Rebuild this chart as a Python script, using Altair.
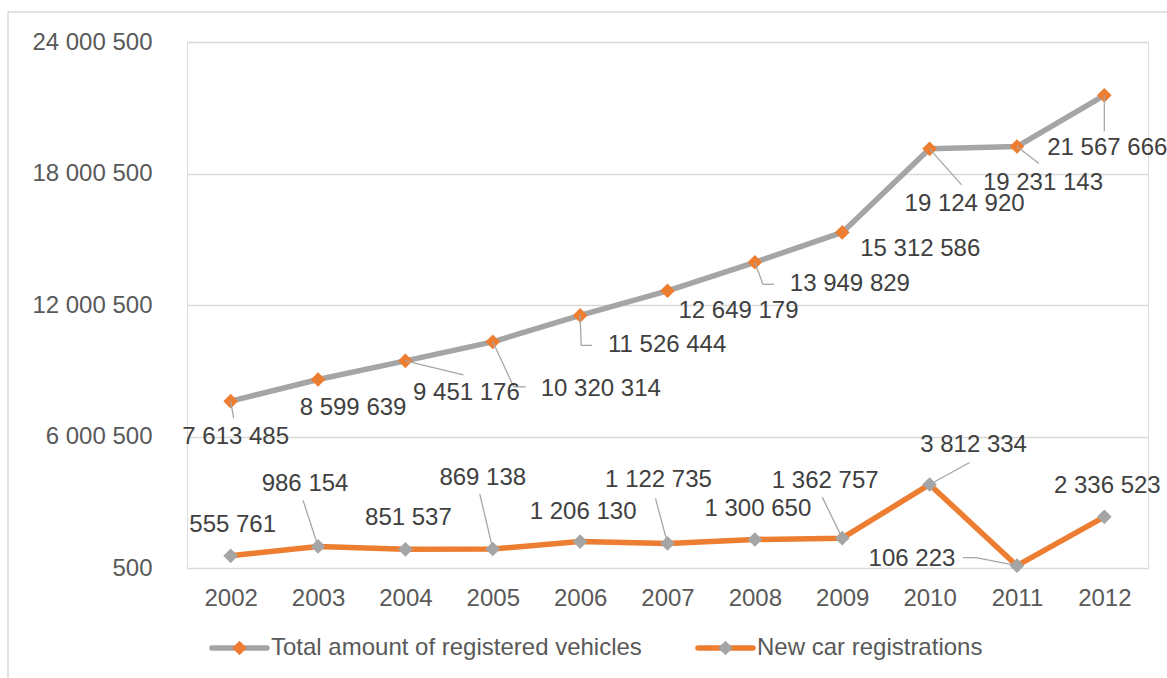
import altair as alt
import pandas as pd

# ---- data -------------------------------------------------------------
YEARS = [2002, 2003, 2004, 2005, 2006, 2007, 2008, 2009, 2010, 2011, 2012]
TOTAL = [7613485, 8599639, 9451176, 10320314, 11526444, 12649179,
         13949829, 15312586, 19124920, 19231143, 21567666]
NEW = [555761, 986154, 851537, 869138, 1206130, 1122735,
       1300650, 1362757, 3812334, 106223, 2336523]
SERIES = ["Total amount of registered vehicles", "New car registrations"]
Y_TICKS = [500, 6000500, 12000500, 18000500, 24000500]

# ---- label layout (pixel offsets from each marker) ---------------------
TOTAL_LABEL_DX = [5, 35, 61, 108, 87, 71, 95, 78, 35, 26, 3]
TOTAL_LABEL_DY = [36, 28, 32, 47, 30, 20, 22, 17, 55, 36, 53]
NEW_LABEL_DX = [2, -13, 3, -10, 3, -9, 3, -17, 44, -105, 3]
NEW_LABEL_DY = [-31, -62, -31, -71, -30, -63, -31, -57, -39, -7, -31]

# leader-line paths, as pixel offsets from the marker
TOTAL_LEADERS = {
    2002: [(0, 0), (3, 17)],
    2004: [(0, 0), (58, 14)],
    2005: [(0, 0), (21, 45), (33, 45)],
    2006: [(0, 0), (1, 30), (12, 30)],
    2008: [(0, 0), (8, 22), (19, 22)],
    2010: [(0, 0), (32, 36)],
    2011: [(0, 0), (22, 17)],
    2012: [(0, 0), (0, 36)],
}
NEW_LEADERS = {
    2003: [(0, 0), (-15, -46)],
    2005: [(0, 0), (-13, -55)],
    2007: [(0, 0), (-12, -45)],
    2009: [(0, 0), (-20, -41)],
    2010: [(0, 0), (40, -22)],
    2011: [(0, 0), (-41, -8), (-54, -8)],
}

ORANGE = "#ED7D31"
GREY = "#A5A5A5"
FONT = "Liberation Sans"
MARKER_SIZE = 215


def spaced(v):
    return f"{v:,}".replace(",", " ")


series_df = pd.DataFrame({
    "year": YEARS * 2,
    "value": TOTAL + NEW,
    "series": [SERIES[0]] * len(YEARS) + [SERIES[1]] * len(YEARS),
})
total_df = series_df[series_df.series == SERIES[0]]
new_df = series_df[series_df.series == SERIES[1]]

labels_df = pd.DataFrame({
    "year": YEARS * 2,
    "value": TOTAL + NEW,
    "text": [spaced(v) for v in TOTAL + NEW],
    "ox": TOTAL_LABEL_DX + NEW_LABEL_DX,
    "oy": TOTAL_LABEL_DY + NEW_LABEL_DY,
})

leader_rows = []
for values, paths in ((TOTAL, TOTAL_LEADERS), (NEW, NEW_LEADERS)):
    for yr, path in paths.items():
        v = values[YEARS.index(yr)]
        for (a, b), (c, d) in zip(path[:-1], path[1:]):
            leader_rows.append({"year": yr, "value": v,
                                "x1o": a, "y1o": b, "x2o": c, "y2o": d})
leaders_df = pd.DataFrame(leader_rows)

# ---- encodings -----------------------------------------------------------
x_enc = alt.X(
    "year:O",
    scale=alt.Scale(type="point", padding=0.5),
    axis=alt.Axis(title=None, labelAngle=0, domain=False, ticks=False,
                  labelFontSize=24, labelColor="#595959", labelPadding=18,
                  labelFont=FONT, grid=False),
)
y_enc = alt.Y(
    "value:Q",
    scale=alt.Scale(domain=[500, 24000500], nice=False, zero=False),
    axis=alt.Axis(title=None, values=Y_TICKS, domain=False, ticks=False,
                  grid=True, gridColor="#D9D9D9", gridWidth=1.3,
                  labelFontSize=24, labelColor="#595959", labelPadding=35,
                  labelFont=FONT,
                  labelExpr="replace(replace(format(datum.value, ','), ',', ' '), ',', ' ')"),
)

one = pd.DataFrame({"k": [0]})

frame = alt.Chart(one).mark_rect(filled=False, stroke="#D9D9D9", strokeWidth=1.5).encode(
    x=alt.value(-179), x2=alt.value(1300), y=alt.value(-30), y2=alt.value(800)
)

total_line = alt.Chart(total_df).mark_line(
    color=GREY, strokeWidth=5.5, strokeCap="round", strokeJoin="round"
).encode(x=x_enc, y=y_enc)
new_line = alt.Chart(new_df).mark_line(
    color=ORANGE, strokeWidth=5.5, strokeCap="round", strokeJoin="round"
).encode(x=x_enc, y=y_enc)

total_pts = alt.Chart(total_df).mark_point(
    shape="diamond", filled=True, size=MARKER_SIZE, color=ORANGE, opacity=1
).encode(x=x_enc, y=y_enc)
new_pts = alt.Chart(new_df).mark_point(
    shape="diamond", filled=True, size=MARKER_SIZE, color=GREY, opacity=1
).encode(x=x_enc, y=y_enc)

leaders = alt.Chart(leaders_df).mark_rule(
    color="#A6A6A6", strokeWidth=1.3,
    xOffset=alt.ExprRef(expr="datum.x1o"), yOffset=alt.ExprRef(expr="datum.y1o"),
    x2Offset=alt.ExprRef(expr="datum.x2o"), y2Offset=alt.ExprRef(expr="datum.y2o"),
).encode(x=x_enc, y=y_enc, x2="year:O", y2="value:Q")

labels = alt.Chart(labels_df).mark_text(
    fontSize=24, font=FONT, color="#404040",
    dx=alt.ExprRef(expr="datum.ox"), dy=alt.ExprRef(expr="datum.oy"),
).encode(x=x_enc, y=y_enc, text="text:N")

# ---- legend --------------------------------------------------------------
LEG_Y = 606


def legend_entry(x0, line_color, marker_color, name):
    line = alt.Chart(one).mark_rule(
        color=line_color, strokeWidth=5.5, strokeCap="round"
    ).encode(x=alt.value(x0), x2=alt.value(x0 + 55), y=alt.value(LEG_Y))
    mark = alt.Chart(one).mark_point(
        shape="diamond", filled=True, size=MARKER_SIZE, color=marker_color, opacity=1
    ).encode(x=alt.value(x0 + 27.5), y=alt.value(LEG_Y))
    text = alt.Chart(one).mark_text(
        align="left", baseline="middle", fontSize=24, font=FONT, color="#595959"
    ).encode(x=alt.value(x0 + 59), y=alt.value(LEG_Y), text=alt.value(name))
    return line + mark + text


legend = legend_entry(25, GREY, ORANGE, SERIES[0]) + legend_entry(511, ORANGE, GREY, SERIES[1])

chart = alt.layer(
    frame, total_line, new_line, total_pts, new_pts, leaders, labels, legend
).properties(
    width=961,
    height=526,
    autosize=alt.AutoSizeParams(type="none"),
    padding={"left": 187, "top": 42, "right": 19, "bottom": 110},
).configure_view(stroke=None).configure(font=FONT)

chart.save("out.html", embed_options={"renderer": "svg", "actions": False})
